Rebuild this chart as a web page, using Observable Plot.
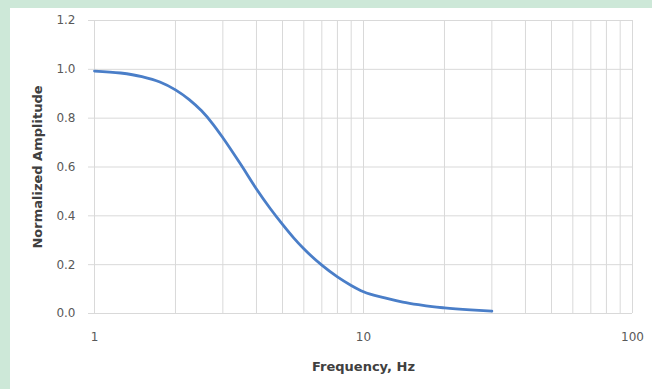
<!DOCTYPE html>
<html>
<head>
<meta charset="utf-8">
<script src="https://cdn.jsdelivr.net/npm/d3@7"></script>
<script src="https://cdn.jsdelivr.net/npm/@observablehq/plot@0.6"></script>
<style>
  html, body { margin: 0; padding: 0; background: #cde8d8; width: 652px; height: 389px; overflow: hidden; }
  #wrap { position: absolute; left: 10px; top: 8px; width: 642px; height: 381px; background: #ffffff; }
</style>
</head>
<body>
<div id="wrap"></div>
<script>
const freq = [1, 1.25, 1.5, 1.75, 2, 2.25, 2.5, 2.75, 3, 3.5, 4, 4.5, 5, 5.5, 6, 7, 8, 9, 10, 12, 14, 16, 18, 20, 25, 30];
const amp  = [0.993, 0.985, 0.970, 0.948, 0.916, 0.876, 0.830, 0.777, 0.720, 0.610, 0.510, 0.430, 0.365, 0.310, 0.265, 0.198, 0.150, 0.115, 0.089, 0.064, 0.047, 0.036, 0.028, 0.023, 0.015, 0.010];
const xGrid = [1,2,3,4,5,6,7,8,9,10,20,30,40,50,60,70,80,90,100];
const xTicks = [1, 10, 100];
const yTicks = [0, 0.2, 0.4, 0.6, 0.8, 1.0, 1.2];
const xLabel = "Frequency, Hz";
const yLabel = "Normalized Amplitude";

const data = freq.map((f, i) => ({f, a: amp[i]}));
const grid = "#d9d9d9";
const textColor = "#595959";

const chart = Plot.plot({
  width: 642,
  height: 381,
  marginLeft: 84,
  marginRight: 20,
  marginTop: 12,
  marginBottom: 76,
  style: {fontFamily: "'DejaVu Sans', sans-serif", fontSize: "12px", color: textColor, background: "transparent"},
  x: {type: "log", domain: [1, 100]},
  y: {domain: [0, 1.2]},
  marks: [
    Plot.ruleX(xGrid, {x: d => d, stroke: grid, strokeWidth: 1}),
    Plot.ruleY(yTicks, {y: d => d, stroke: grid, strokeWidth: 1}),
    Plot.axisY(yTicks, {tickFormat: d3.format(".1f"), tickSize: 6, tickPadding: 13, stroke: grid, fill: textColor,
      label: yLabel, labelAnchor: "center", labelArrow: "none", labelOffset: 62}),
    Plot.axisX(xTicks, {tickFormat: d => String(d), tickSize: 0, tickPadding: 19, fill: textColor,
      label: xLabel, labelAnchor: "center", labelArrow: "none", labelOffset: 57}),
    Plot.line(data, {x: "f", y: "a", stroke: "#4a7ec8", strokeWidth: 2.8, curve: "monotone-x"})
  ]
});
chart.querySelectorAll('[aria-label="y-axis label"] text, [aria-label="x-axis label"] text').forEach(t => {
  t.setAttribute("font-weight", "bold");
  t.setAttribute("fill", "#404040");
  t.setAttribute("font-size", "13px");
});
document.getElementById("wrap").appendChild(chart);
</script>
</body>
</html>
